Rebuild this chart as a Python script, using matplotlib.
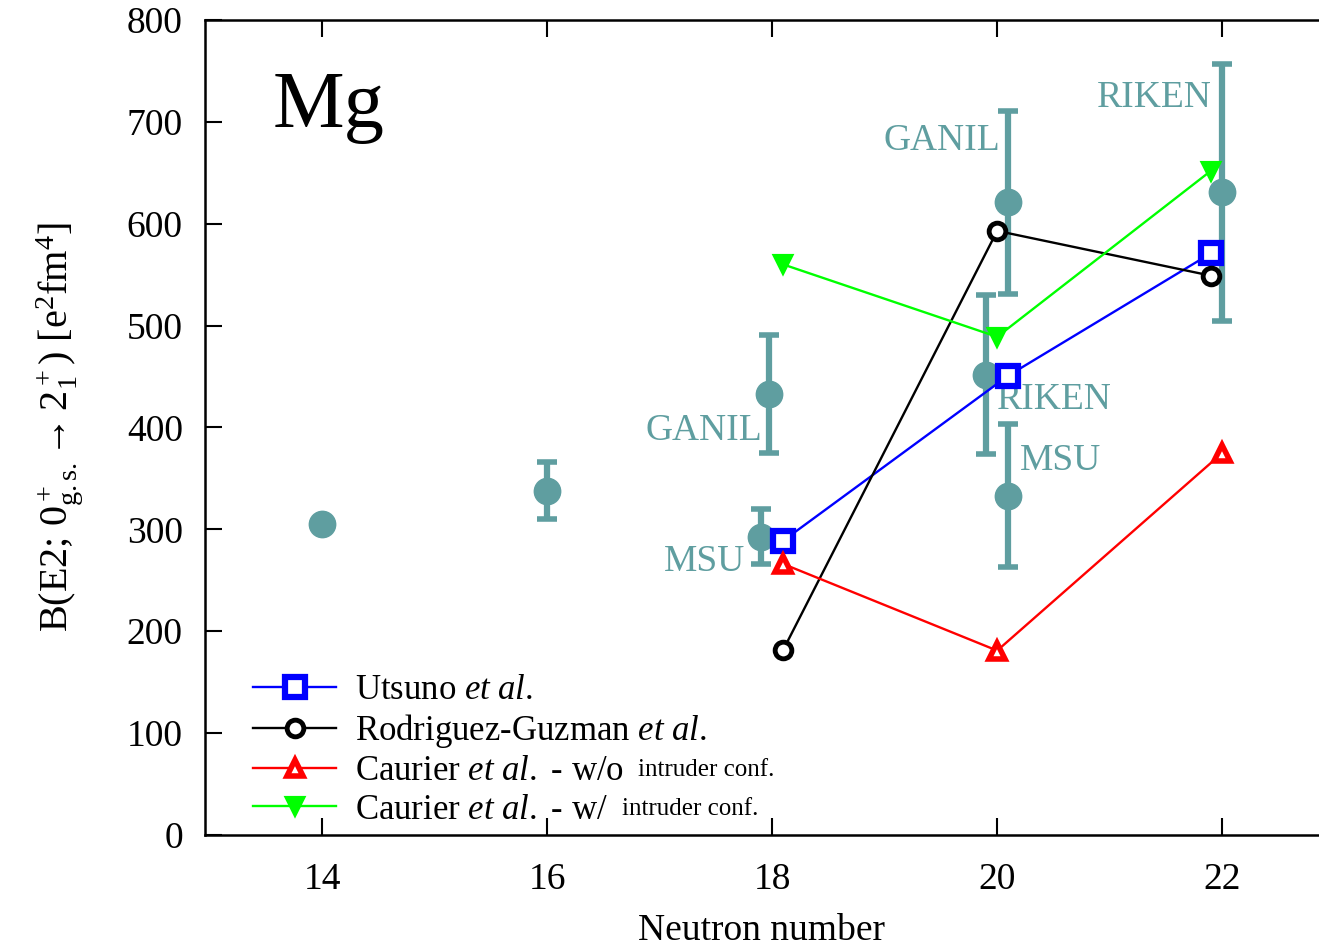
import numpy as np
import matplotlib
matplotlib.use('Agg')
import matplotlib.pyplot as plt

plt.rcParams['font.family'] = ['Liberation Serif', 'DejaVu Serif']
plt.rcParams['mathtext.fontset'] = 'custom'
plt.rcParams['mathtext.rm'] = 'Liberation Serif'
plt.rcParams['mathtext.it'] = 'Liberation Serif:italic'

teal = '#5f9ea0'

# experimental B(E2) values
exp_n = [14, 16, 17.9, 17.97, 19.9, 20.1, 20.1, 22]
exp_b = [305, 338, 293, 433, 452, 621, 333, 631]
exp_err = [0, 28, 27, 58, 78, 90, 70, 126]

# theory
utsuno_n = [18.1, 20.1, 21.9]
utsuno_b = [289, 451, 571]
rodguz_n = [18.1, 20.0, 21.9]
rodguz_b = [182, 593, 549]
caur_wo_n = [18.1, 20.0, 22.0]
caur_wo_b = [266, 181, 375]
caur_w_n = [18.1, 20.0, 21.9]
caur_w_b = [560, 489, 652]

fig = plt.figure(figsize=(13.19, 9.52), dpi=100)
ax = fig.add_axes([0.1554, 0.1229, 0.8446, 0.8561])

ax.errorbar(exp_n, exp_b, yerr=exp_err, fmt='o', color=teal, ms=19,
            elinewidth=4.5, capsize=7, capthick=4, zorder=2)

ax.plot(utsuno_n, utsuno_b, '-s', color='#0000ff', lw=1.7, ms=14, mew=4.5,
        mfc='white', label='Utsuno $\\mathit{et\\ al.}$', zorder=4)
ax.plot(rodguz_n, rodguz_b, '-o', color='black', lw=1.7, ms=12, mew=3.5,
        mfc='white', label='Rodriguez-Guzman $\\mathit{et\\ al.}$', zorder=4)
ax.plot(caur_wo_n, caur_wo_b, '-^', color='#ff0000', lw=1.7, ms=11, mew=4,
        mfc='white', label='Caurier $\\mathit{et\\ al.}$ - w/o', zorder=4)
ax.plot(caur_w_n, caur_w_b, '-v', color='#00ff00', lw=1.7, ms=12, mew=3,
        mfc='#00ff00', label='Caurier $\\mathit{et\\ al.}$ - w/', zorder=4)

ax.set_xlim(12.96, 22.86)
ax.set_ylim(0, 800)
ax.set_xticks([14, 16, 18, 20, 22])
ax.set_yticks(np.arange(0, 801, 100))
ax.tick_params(direction='in', length=12, width=1.5, labelsize=27,
               top=True, right=False)
ax.tick_params(axis='x', pad=20)
ax.tick_params(axis='y', pad=16)
for s in ['left', 'top', 'bottom']:
    ax.spines[s].set_linewidth(1.8)
ax.spines['right'].set_visible(False)

ax.set_xlabel('Neutron number', fontsize=27, labelpad=12)
ax.set_ylabel('B(E2; $0^+_{\\mathrm{g.s.}}\\!\\rightarrow 2^+_1$) [e$^2$fm$^4$]',
              fontsize=29, labelpad=30)

ax.text(13.56, 714, 'Mg', fontsize=58, va='center', ha='left')
lab_kw = dict(color=teal, fontsize=27, va='center')
ax.text(17.91, 397, 'GANIL', ha='right', **lab_kw)
ax.text(17.76, 268, 'MSU', ha='right', **lab_kw)
ax.text(20.03, 681, 'GANIL', ha='right', **lab_kw)
ax.text(20.0, 427, 'RIKEN', ha='left', **lab_kw)
ax.text(20.2, 367, 'MSU', ha='left', **lab_kw)
ax.text(21.91, 724, 'RIKEN', ha='right', **lab_kw)

leg = ax.legend(loc='lower left', bbox_to_anchor=(0.015, -0.028), frameon=False,
                fontsize=25, handlelength=2.4, handletextpad=0.55,
                labelspacing=0.15, numpoints=1)

fig.canvas.draw()
r = fig.canvas.get_renderer()
for t in leg.get_texts()[2:]:
    bb = t.get_window_extent(r)
    fig.text((bb.x1 + 14) / fig.bbox.width, (bb.y0 + 7) / fig.bbox.height,
             'intruder conf.', fontsize=18, va='bottom', ha='left')

fig.savefig('out.png', dpi=100)
